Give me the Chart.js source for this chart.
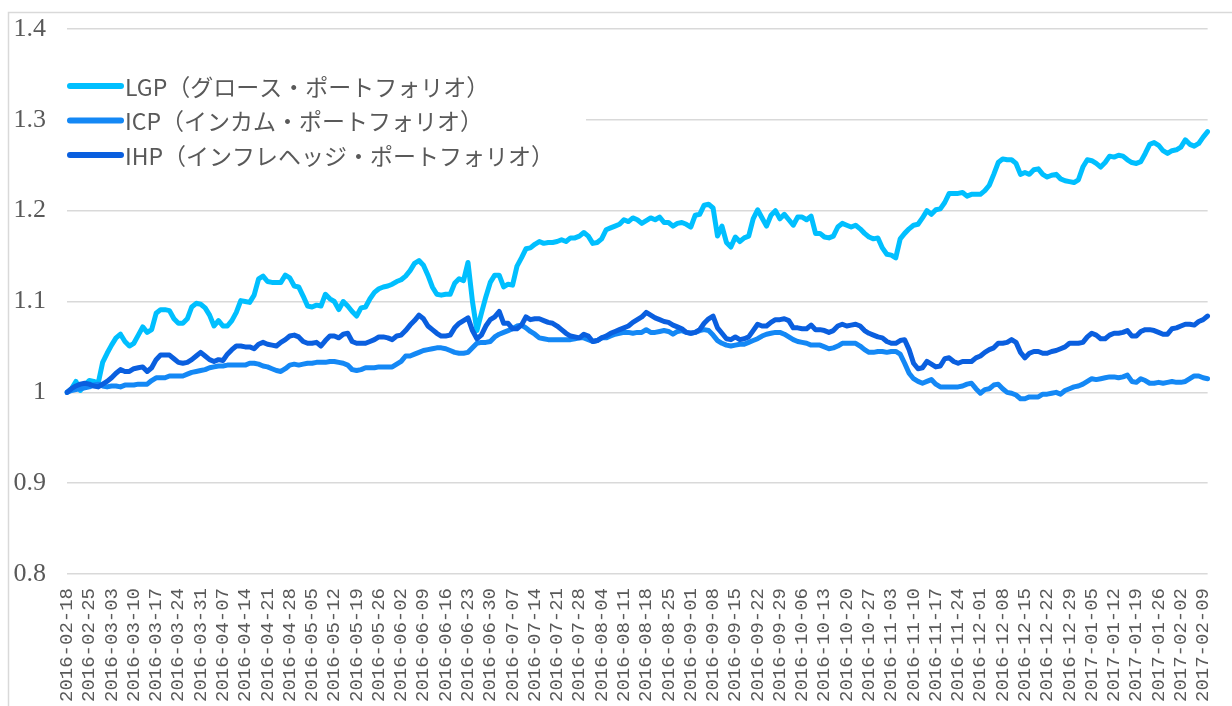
<!DOCTYPE html>
<html lang="ja">
<head>
<meta charset="utf-8">
<title>ポートフォリオ推移</title>
<script src="https://cdn.jsdelivr.net/npm/chart.js@4.4.1/dist/chart.umd.min.js"></script>
<style>
  html, body { margin: 0; padding: 0; background: #fff; }
  canvas { display: block; }
</style>
</head>
<body>
<canvas id="chart" width="1232" height="706"></canvas>
<script>
// 営業日ベースの日次系列（2016-02-18 = 1）
const startDate = '2016-02-18';
const endDate = '2017-02-10';

const seriesNames = [
  'LGP（グロース・ポートフォリオ）',
  'ICP（インカム・ポートフォリオ）',
  'IHP（インフレヘッジ・ポートフォリオ）'
];
const seriesColors = ['#00bfff', '#1488f5', '#0a5fdf'];

const lgp = [
  1.000,1.004,1.012,1.002,1.008,1.013,1.012,1.010,1.033,1.043,
  1.052,1.060,1.064,1.056,1.051,1.054,1.063,1.072,1.066,1.069,
  1.087,1.091,1.091,1.090,1.081,1.076,1.076,1.081,1.094,1.098,
  1.097,1.093,1.085,1.073,1.079,1.073,1.073,1.079,1.088,1.101,
  1.100,1.099,1.107,1.125,1.128,1.122,1.121,1.121,1.121,1.129,
  1.126,1.117,1.116,1.106,1.095,1.094,1.096,1.095,1.108,1.103,
  1.100,1.091,1.100,1.095,1.089,1.084,1.093,1.094,1.103,1.110,
  1.114,1.116,1.117,1.119,1.122,1.124,1.128,1.134,1.142,1.145,
  1.140,1.129,1.116,1.108,1.107,1.108,1.108,1.120,1.125,1.123,
  1.143,1.100,1.068,1.087,1.105,1.121,1.129,1.129,1.116,1.119,
  1.118,1.139,1.148,1.158,1.159,1.163,1.166,1.164,1.165,1.165,
  1.166,1.168,1.166,1.170,1.170,1.172,1.176,1.172,1.164,1.165,
  1.169,1.179,1.181,1.183,1.185,1.190,1.188,1.192,1.190,1.186,
  1.189,1.192,1.190,1.193,1.187,1.187,1.183,1.186,1.187,1.185,
  1.182,1.195,1.196,1.206,1.207,1.203,1.172,1.183,1.165,1.160,
  1.171,1.166,1.170,1.172,1.191,1.201,1.192,1.183,1.195,1.200,
  1.191,1.196,1.190,1.184,1.193,1.193,1.190,1.194,1.175,1.175,
  1.171,1.170,1.172,1.182,1.186,1.184,1.182,1.184,1.180,1.175,
  1.171,1.169,1.170,1.159,1.152,1.151,1.148,1.169,1.175,1.180,
  1.184,1.185,1.192,1.200,1.196,1.201,1.202,1.209,1.219,1.219,
  1.219,1.220,1.216,1.218,1.218,1.218,1.222,1.228,1.240,1.253,
  1.257,1.256,1.256,1.252,1.240,1.242,1.240,1.245,1.246,1.240,
  1.237,1.239,1.240,1.235,1.233,1.232,1.231,1.234,1.248,1.256,
  1.255,1.252,1.248,1.253,1.260,1.259,1.261,1.260,1.256,1.253,
  1.252,1.254,1.263,1.273,1.275,1.272,1.266,1.263,1.266,1.267,
  1.270,1.278,1.273,1.271,1.274,1.281,1.287
];

const icp = [
  1.000,1.002,1.003,1.004,1.005,1.006,1.008,1.009,1.007,1.006,
  1.007,1.007,1.006,1.008,1.008,1.008,1.009,1.009,1.009,1.013,
  1.016,1.016,1.016,1.018,1.018,1.018,1.018,1.020,1.022,1.023,
  1.024,1.025,1.027,1.028,1.029,1.029,1.030,1.030,1.030,1.030,
  1.030,1.032,1.032,1.031,1.029,1.028,1.026,1.024,1.023,1.026,
  1.030,1.031,1.030,1.031,1.032,1.032,1.033,1.033,1.033,1.034,
  1.034,1.033,1.032,1.030,1.025,1.024,1.025,1.027,1.027,1.027,
  1.028,1.028,1.028,1.028,1.031,1.034,1.040,1.040,1.042,1.044,
  1.046,1.047,1.048,1.049,1.049,1.048,1.046,1.044,1.043,1.043,
  1.044,1.049,1.054,1.055,1.055,1.056,1.061,1.064,1.066,1.068,
  1.070,1.073,1.074,1.071,1.067,1.064,1.060,1.059,1.058,1.058,
  1.058,1.058,1.058,1.058,1.059,1.060,1.060,1.058,1.056,1.057,
  1.060,1.060,1.062,1.064,1.065,1.066,1.066,1.065,1.066,1.066,
  1.069,1.066,1.066,1.067,1.068,1.067,1.064,1.067,1.068,1.066,
  1.065,1.066,1.068,1.069,1.068,1.063,1.057,1.054,1.052,1.051,
  1.052,1.053,1.053,1.055,1.057,1.059,1.062,1.064,1.065,1.066,
  1.066,1.064,1.061,1.058,1.056,1.055,1.054,1.052,1.052,1.052,
  1.050,1.048,1.049,1.051,1.054,1.054,1.054,1.054,1.051,1.047,
  1.044,1.044,1.045,1.045,1.044,1.045,1.045,1.042,1.032,1.021,
  1.015,1.012,1.010,1.012,1.014,1.009,1.006,1.006,1.006,1.006,
  1.006,1.007,1.009,1.010,1.004,0.999,1.003,1.004,1.008,1.009,
  1.004,1.000,0.999,0.997,0.993,0.993,0.995,0.995,0.995,0.998,
  0.998,0.999,1.000,0.998,1.002,1.004,1.006,1.007,1.009,1.012,
  1.015,1.014,1.015,1.016,1.017,1.017,1.016,1.017,1.019,1.012,
  1.011,1.015,1.013,1.010,1.010,1.011,1.010,1.011,1.012,1.011,
  1.011,1.012,1.015,1.018,1.018,1.016,1.015
];

const ihp = [
  1.000,1.004,1.007,1.009,1.010,1.009,1.007,1.006,1.009,1.012,
  1.016,1.021,1.025,1.023,1.023,1.026,1.027,1.028,1.023,1.027,
  1.036,1.041,1.041,1.041,1.037,1.033,1.032,1.033,1.036,1.040,
  1.044,1.040,1.036,1.034,1.036,1.035,1.042,1.047,1.051,1.051,
  1.050,1.050,1.048,1.053,1.055,1.053,1.052,1.051,1.055,1.058,
  1.062,1.063,1.061,1.056,1.054,1.054,1.055,1.051,1.057,1.062,
  1.062,1.060,1.064,1.065,1.056,1.054,1.054,1.054,1.056,1.058,
  1.061,1.061,1.060,1.058,1.062,1.063,1.068,1.074,1.079,1.085,
  1.081,1.073,1.069,1.065,1.062,1.062,1.063,1.071,1.076,1.079,
  1.082,1.068,1.059,1.063,1.073,1.080,1.083,1.089,1.076,1.076,
  1.070,1.070,1.074,1.083,1.080,1.081,1.081,1.079,1.077,1.076,
  1.073,1.069,1.065,1.062,1.061,1.060,1.064,1.062,1.056,1.057,
  1.060,1.062,1.065,1.067,1.069,1.071,1.073,1.077,1.080,1.083,
  1.088,1.085,1.082,1.080,1.078,1.077,1.074,1.072,1.070,1.066,
  1.065,1.066,1.069,1.076,1.081,1.084,1.071,1.065,1.059,1.058,
  1.061,1.058,1.059,1.061,1.068,1.075,1.073,1.073,1.077,1.080,
  1.080,1.081,1.079,1.071,1.071,1.070,1.070,1.074,1.069,1.069,
  1.068,1.066,1.068,1.073,1.075,1.073,1.074,1.075,1.073,1.068,
  1.065,1.063,1.061,1.060,1.056,1.054,1.054,1.057,1.058,1.047,
  1.032,1.026,1.027,1.034,1.031,1.028,1.029,1.037,1.038,1.034,
  1.032,1.034,1.034,1.034,1.038,1.040,1.044,1.047,1.049,1.054,
  1.054,1.055,1.058,1.055,1.044,1.038,1.043,1.045,1.045,1.043,
  1.043,1.045,1.046,1.048,1.050,1.054,1.054,1.054,1.055,1.061,
  1.065,1.063,1.059,1.059,1.063,1.065,1.065,1.066,1.068,1.062,
  1.062,1.067,1.069,1.069,1.068,1.066,1.064,1.064,1.070,1.071,
  1.073,1.075,1.075,1.074,1.078,1.080,1.084
];

const yMin = 0.8;
const yMax = 1.4;
const yStep = 0.1;

function businessDays(from, to) {
  const out = [];
  const d = new Date(from + 'T00:00:00Z');
  const end = new Date(to + 'T00:00:00Z');
  for (; d <= end; d.setUTCDate(d.getUTCDate() + 1)) {
    const wd = d.getUTCDay();
    if (wd === 0 || wd === 6) continue;
    out.push(d.toISOString().slice(0, 10));
  }
  return out;
}

const dates = businessDays(startDate, endDate);

// 凡例（白地の枠の上に線と系列名）
const legendBox = {
  id: 'legendBox',
  beforeDatasetsDraw(chart) {
    const ctx = chart.ctx;
    ctx.save();
    ctx.fillStyle = '#ffffff';
    ctx.fillRect(60, 62, 526, 118);
    chart.data.datasets.forEach((ds, i) => {
      const y = 86 + i * 34.5;
      ctx.strokeStyle = ds.borderColor;
      ctx.lineWidth = 6;
      ctx.lineCap = 'round';
      ctx.beginPath();
      ctx.moveTo(70, y);
      ctx.lineTo(121, y);
      ctx.stroke();
      ctx.fillStyle = '#595959';
      ctx.font = '23px "Noto Sans CJK JP"';
      ctx.textBaseline = 'middle';
      ctx.fillText(ds.label, 125, y + 1);
    });
    ctx.restore();
  }
};

// 外枠
const frame = {
  id: 'frame',
  afterDraw(chart) {
    const ctx = chart.ctx;
    ctx.save();
    ctx.strokeStyle = '#d9d9d9';
    ctx.lineWidth = 1.5;
    ctx.strokeRect(8.5, 12.5, 1300, 800);
    ctx.restore();
  }
};

const series = [lgp, icp, ihp];

new Chart(document.getElementById('chart'), {
  type: 'line',
  data: {
    labels: dates,
    datasets: series.map((values, i) => ({
      label: seriesNames[i],
      data: values,
      borderColor: seriesColors[i],
      backgroundColor: seriesColors[i],
      borderWidth: 5,
      borderJoinStyle: 'round',
      borderCapStyle: 'round',
      pointRadius: 0,
      tension: 0,
      order: 2 - i
    }))
  },
  options: {
    responsive: false,
    animation: false,
    devicePixelRatio: 1,
    layout: { padding: { top: 29, right: 8, left: 0, bottom: 0 } },
    plugins: {
      legend: { display: false },
      tooltip: { enabled: false }
    },
    scales: {
      x: {
        type: 'category',
        offset: false,
        grid: { display: false },
        border: { display: false },
        afterFit(scale) { scale.height = 132; },
        ticks: {
          autoSkip: false,
          maxRotation: 90,
          minRotation: 90,
          padding: 6,
          color: '#595959',
          font: { family: '"Liberation Mono"', size: 19 },
          callback(value, index) {
            return index % 5 === 0 ? dates[index] : null;
          }
        }
      },
      y: {
        min: yMin,
        max: yMax,
        afterFit(scale) {
          scale.width = 67;
          scale.paddingTop = 0;
          scale.paddingBottom = 0;
        },
        grid: { color: '#d9d9d9', lineWidth: 1.5, drawTicks: false },
        border: { display: false },
        ticks: {
          stepSize: yStep,
          padding: 21,
          color: '#595959',
          font: { family: '"Liberation Serif"', size: 26 },
          callback: v => String(+v.toFixed(1))
        }
      }
    }
  },
  plugins: [legendBox, frame]
});
</script>
</body>
</html>
